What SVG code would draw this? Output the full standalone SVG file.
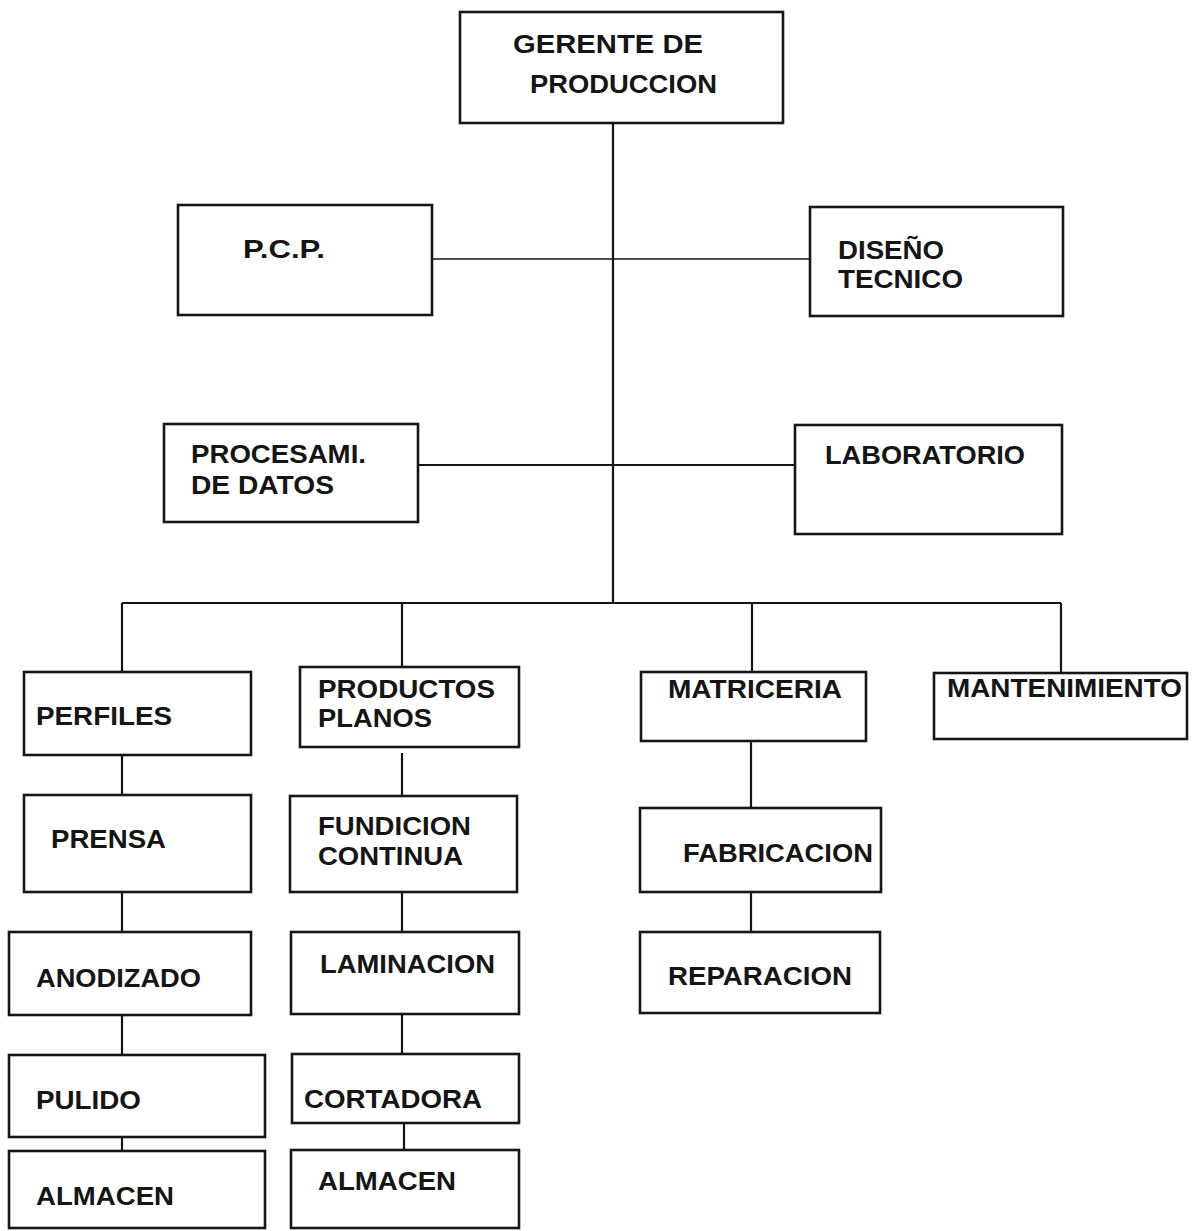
<svg xmlns="http://www.w3.org/2000/svg" width="1195" height="1231" viewBox="0 0 1195 1231">
<style>
.box{fill:#fff;stroke:#151515;stroke-width:2.6}
.t{font-family:"Liberation Sans",Arial,sans-serif;font-weight:bold;font-size:25px;fill:#151515}
.c{stroke:#151515;stroke-width:2.2;fill:none}
.thin{stroke-width:1.6}
</style>
<rect width="1195" height="1231" fill="#fff"/>
<g id="connectors">
<path class="c" d="M613 123V603"/>
<path class="c thin" d="M432 259H810"/>
<path class="c" d="M418 465H795"/>
<path class="c" d="M122 603H1061"/>
<path class="c" d="M122 603V672M402 603V667M752 603V672M1061 603V673"/>
<path class="c" d="M122 755V795M402 753V796M751 741V808"/>
<path class="c" d="M122 892V932M402 892V932M751 892V932"/>
<path class="c" d="M122 1015V1055M402 1014V1054"/>
<path class="c" d="M122 1137V1151M404 1123V1150"/>
</g>
<g id="gerente"><rect class="box" x="460" y="12" width="323" height="111"/><text class="t" x="513" y="53" textLength="190" lengthAdjust="spacingAndGlyphs">GERENTE DE</text><text class="t" x="530" y="93" textLength="187" lengthAdjust="spacingAndGlyphs">PRODUCCION</text></g>
<g id="pcp"><rect class="box" x="178" y="205" width="254" height="110"/><text class="t" x="243" y="258" textLength="82" lengthAdjust="spacingAndGlyphs">P.C.P.</text></g>
<g id="diseno"><rect class="box" x="810" y="207" width="253" height="109"/><text class="t" x="838" y="259" textLength="106" lengthAdjust="spacingAndGlyphs">DISEÑO</text><text class="t" x="838" y="288" textLength="125" lengthAdjust="spacingAndGlyphs">TECNICO</text></g>
<g id="procesami"><rect class="box" x="164" y="424" width="254" height="98"/><text class="t" x="191" y="463" textLength="175" lengthAdjust="spacingAndGlyphs">PROCESAMI.</text><text class="t" x="191" y="494" textLength="143" lengthAdjust="spacingAndGlyphs">DE DATOS</text></g>
<g id="laboratorio"><rect class="box" x="795" y="425" width="267" height="109"/><text class="t" x="825" y="464" textLength="200" lengthAdjust="spacingAndGlyphs">LABORATORIO</text></g>
<g id="perfiles"><rect class="box" x="24" y="672" width="227" height="83"/><text class="t" x="36" y="725" textLength="136" lengthAdjust="spacingAndGlyphs">PERFILES</text></g>
<g id="productos"><rect class="box" x="300" y="667" width="219" height="80"/><text class="t" x="318" y="698" textLength="177" lengthAdjust="spacingAndGlyphs">PRODUCTOS</text><text class="t" x="318" y="727" textLength="114" lengthAdjust="spacingAndGlyphs">PLANOS</text></g>
<g id="matriceria"><rect class="box" x="641" y="672" width="225" height="69"/><text class="t" x="668" y="698" textLength="174" lengthAdjust="spacingAndGlyphs">MATRICERIA</text></g>
<g id="mantenimiento"><rect class="box" x="934" y="673" width="253" height="66"/><text class="t" x="947" y="697" textLength="235" lengthAdjust="spacingAndGlyphs">MANTENIMIENTO</text></g>
<g id="prensa"><rect class="box" x="24" y="795" width="227" height="97"/><text class="t" x="51" y="848" textLength="115" lengthAdjust="spacingAndGlyphs">PRENSA</text></g>
<g id="fundicion"><rect class="box" x="290" y="796" width="227" height="96"/><text class="t" x="318" y="835" textLength="153" lengthAdjust="spacingAndGlyphs">FUNDICION</text><text class="t" x="318" y="865" textLength="145" lengthAdjust="spacingAndGlyphs">CONTINUA</text></g>
<g id="fabricacion"><rect class="box" x="640" y="808" width="241" height="84"/><text class="t" x="683" y="862" textLength="190" lengthAdjust="spacingAndGlyphs">FABRICACION</text></g>
<g id="anodizado"><rect class="box" x="9" y="932" width="242" height="83"/><text class="t" x="36" y="987" textLength="165" lengthAdjust="spacingAndGlyphs">ANODIZADO</text></g>
<g id="laminacion"><rect class="box" x="291" y="932" width="228" height="82"/><text class="t" x="320" y="973" textLength="175" lengthAdjust="spacingAndGlyphs">LAMINACION</text></g>
<g id="reparacion"><rect class="box" x="640" y="932" width="240" height="81"/><text class="t" x="668" y="985" textLength="184" lengthAdjust="spacingAndGlyphs">REPARACION</text></g>
<g id="pulido"><rect class="box" x="9" y="1055" width="256" height="82"/><text class="t" x="36" y="1109" textLength="105" lengthAdjust="spacingAndGlyphs">PULIDO</text></g>
<g id="cortadora"><rect class="box" x="292" y="1054" width="227" height="69"/><text class="t" x="304" y="1108" textLength="178" lengthAdjust="spacingAndGlyphs">CORTADORA</text></g>
<g id="almacen1"><rect class="box" x="9" y="1151" width="256" height="77"/><text class="t" x="36" y="1205" textLength="138" lengthAdjust="spacingAndGlyphs">ALMACEN</text></g>
<g id="almacen2"><rect class="box" x="291" y="1150" width="228" height="78"/><text class="t" x="318" y="1190" textLength="138" lengthAdjust="spacingAndGlyphs">ALMACEN</text></g>
</svg>
